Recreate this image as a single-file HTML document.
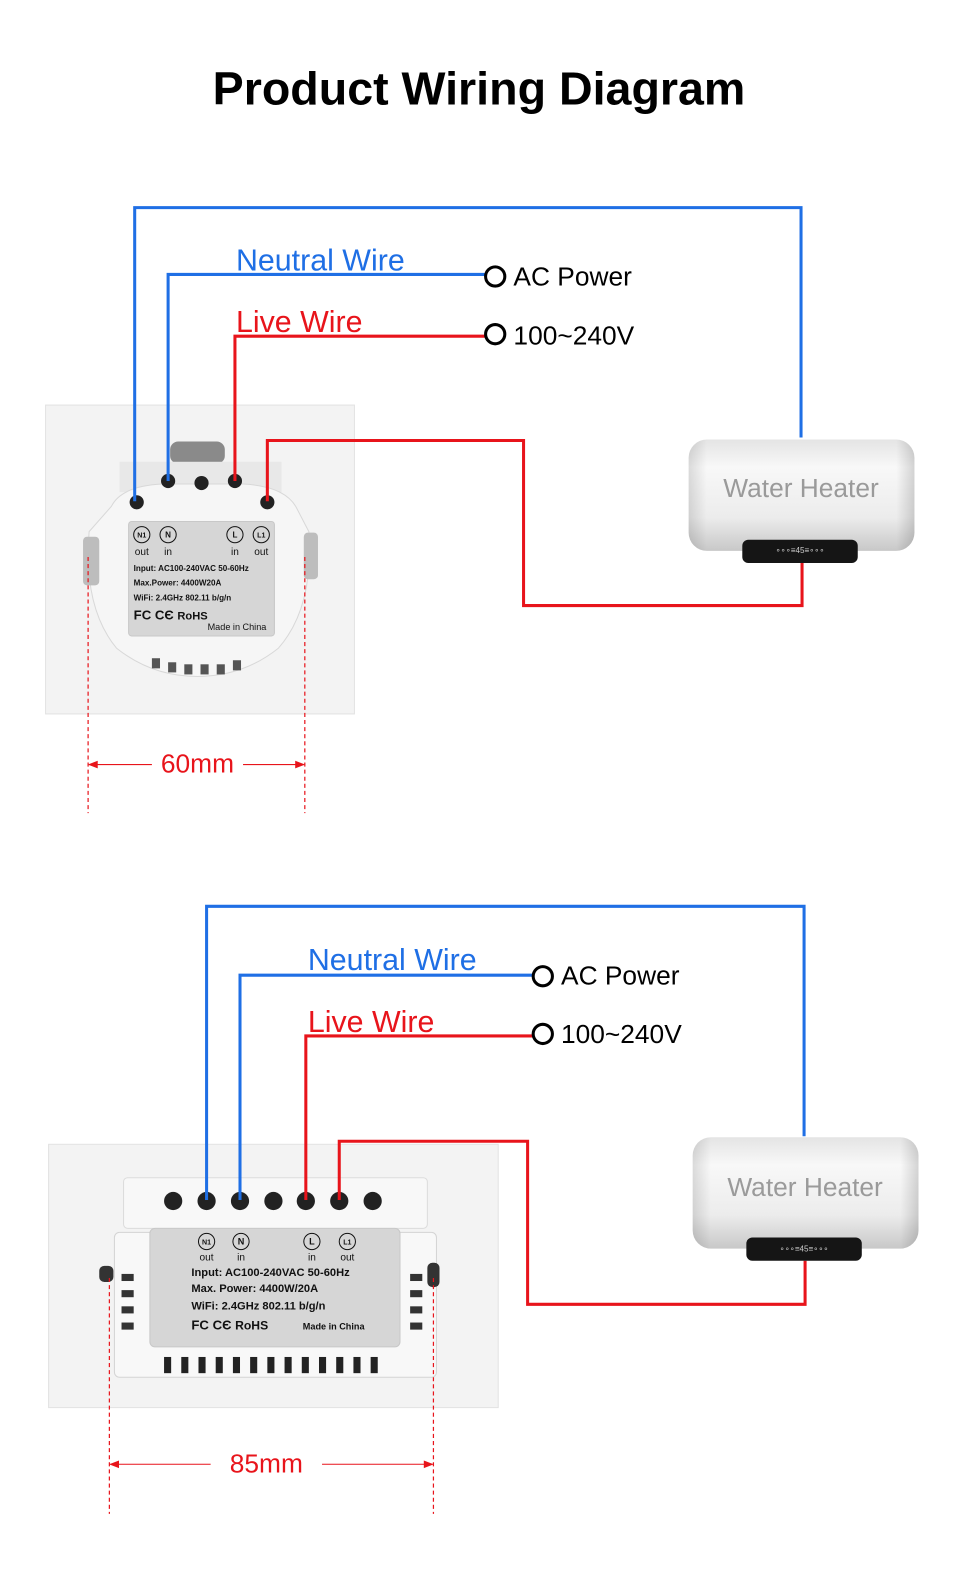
<!DOCTYPE html>
<html><head><meta charset="utf-8"><style>
html,body{margin:0;padding:0;background:#fff;}
svg{display:block;font-family:"Liberation Sans",Arial,sans-serif;}
</style></head><body>
<svg width="958" height="1584" viewBox="0 0 946 1564.2" preserveAspectRatio="none" xmlns="http://www.w3.org/2000/svg">
<defs>
<linearGradient id="hg" x1="0" y1="0" x2="0" y2="1">
<stop offset="0" stop-color="#e4e4e4"/><stop offset="0.25" stop-color="#f8f8f8"/><stop offset="0.7" stop-color="#ececec"/><stop offset="1" stop-color="#c8c8c8"/>
</linearGradient>
<linearGradient id="hx" x1="0" y1="0" x2="1" y2="0">
<stop offset="0" stop-color="#000" stop-opacity="0.12"/><stop offset="0.08" stop-color="#000" stop-opacity="0"/><stop offset="0.92" stop-color="#000" stop-opacity="0"/><stop offset="1" stop-color="#000" stop-opacity="0.15"/>
</linearGradient>
</defs>
<text x="473" y="103" text-anchor="middle" font-size="46" font-weight="bold" fill="#000">Product Wiring Diagram</text>

<!-- ===== TOP ===== -->
<rect x="45" y="400" width="305" height="305" fill="#f3f3f3" stroke="#e2e2e2"/>
<rect x="168" y="436" width="54" height="22" rx="8" fill="#8a8a8a"/>
<rect x="118" y="456" width="160" height="30" fill="#e8e8e8"/>
<path d="M110,500 Q120,480 160,478 L240,478 Q280,480 292,500 L305,525 Q310,600 275,640 Q240,668 195,668 Q150,668 115,640 Q82,600 88,525 Z" fill="#f6f6f6" stroke="#d8d8d8"/>
<rect x="82" y="530" width="16" height="48" rx="4" fill="#bdbdbd"/>
<rect x="300" y="526" width="14" height="46" rx="4" fill="#bdbdbd"/>
<g fill="#555"><rect x="150" y="650" width="8" height="10"/><rect x="166" y="654" width="8" height="10"/><rect x="182" y="656" width="8" height="10"/><rect x="198" y="656" width="8" height="10"/><rect x="214" y="656" width="8" height="10"/><rect x="230" y="652" width="8" height="10"/></g>
<g fill="#222"><circle cx="135" cy="496" r="7"/><circle cx="166" cy="475" r="7"/><circle cx="199" cy="477" r="7"/><circle cx="232" cy="475" r="7"/><circle cx="264" cy="496" r="7"/></g>
<rect x="127" y="515" width="144" height="113" rx="3" fill="#d6d6d6" stroke="#c8c8c8"/>
<g font-size="8" fill="#111" text-anchor="middle" font-weight="bold">
<circle cx="140" cy="528" r="8" fill="none" stroke="#111"/><text x="140" y="531" font-size="7">N1</text>
<circle cx="166" cy="528" r="8" fill="none" stroke="#111"/><text x="166" y="531">N</text>
<circle cx="232" cy="528" r="8" fill="none" stroke="#111"/><text x="232" y="531">L</text>
<circle cx="258" cy="528" r="8" fill="none" stroke="#111"/><text x="258" y="531" font-size="7">L1</text>
<text x="140" y="548" font-size="10" font-weight="normal">out</text><text x="166" y="548" font-size="10" font-weight="normal">in</text><text x="232" y="548" font-size="10" font-weight="normal">in</text><text x="258" y="548" font-size="10" font-weight="normal">out</text>
</g>
<g font-size="8" fill="#111" font-weight="bold">
<text x="132" y="564">Input: AC100-240VAC 50-60Hz</text>
<text x="132" y="578">Max.Power: 4400W20A</text>
<text x="132" y="593">WiFi: 2.4GHz 802.11 b/g/n</text>
<text x="132" y="612" font-size="13">FC  ϹЄ  <tspan font-size="11">RoHS</tspan></text>
<text x="205" y="622" font-weight="normal" font-size="9">Made in China</text>
</g>

<g fill="none" stroke-width="3">
<polyline points="133,495 133,205 791,205 791,432" stroke="#1f6fe5"/>
<polyline points="166,475 166,271 480,271" stroke="#1f6fe5"/>
<polyline points="232,475 232,332 480,332" stroke="#e8141b"/>
<polyline points="264,495 264,435 517,435 517,598 792,598 792,555" stroke="#e8141b"/>
</g>
<circle cx="489" cy="273" r="9.5" fill="#fff" stroke="#000" stroke-width="3"/>
<circle cx="489" cy="330" r="9.5" fill="#fff" stroke="#000" stroke-width="3"/>
<text x="233" y="267" font-size="30" fill="#1f6fe5">Neutral Wire</text>
<text x="233" y="328" font-size="30" fill="#e8141b">Live Wire</text>
<text x="507" y="282" font-size="26" fill="#000">AC Power</text>
<text x="507" y="340" font-size="26" fill="#000">100~240V</text>

<rect x="680" y="434" width="223" height="110" rx="18" fill="url(#hg)"/>
<rect x="680" y="434" width="223" height="110" rx="18" fill="url(#hx)"/>
<rect x="733" y="533" width="114" height="23" rx="6" fill="#151515"/>
<text x="790" y="546" font-size="8" fill="#ccc" text-anchor="middle">∘∘∘≡45≡∘∘∘</text>
<text x="791" y="491" font-size="26" fill="#9a9a9a" text-anchor="middle">Water Heater</text>

<g stroke="#e8141b" stroke-width="1.2" stroke-dasharray="4,3" fill="none">
<line x1="87" y1="550" x2="87" y2="803"/><line x1="301" y1="550" x2="301" y2="803"/>
</g>
<g stroke="#e8141b" stroke-width="1" fill="#e8141b">
<line x1="88" y1="755" x2="150" y2="755"/><line x1="240" y1="755" x2="300" y2="755"/>
<path d="M88,755 l8,-3 v6z M300,755 l-8,-3 v6z"/>
</g>
<text x="195" y="763" font-size="26" fill="#e8141b" text-anchor="middle">60mm</text>

<!-- ===== BOTTOM ===== -->
<rect x="48" y="1130" width="444" height="260" fill="#f3f3f3" stroke="#e2e2e2"/>
<rect x="122" y="1163" width="300" height="50" rx="4" fill="#f8f8f8" stroke="#dcdcdc"/>
<rect x="113" y="1217" width="318" height="143" rx="5" fill="#f8f8f8" stroke="#d4d4d4"/>
<g fill="#222"><circle cx="171" cy="1186" r="9"/><circle cx="204" cy="1186" r="9"/><circle cx="237" cy="1186" r="9"/><circle cx="270" cy="1186" r="9"/><circle cx="302" cy="1186" r="9"/><circle cx="335" cy="1186" r="9"/><circle cx="368" cy="1186" r="9"/></g>
<rect x="148" y="1213" width="247" height="117" rx="5" fill="#d6d6d6" stroke="#c8c8c8"/>
<g fill="#333">
<rect x="98" y="1250" width="14" height="16" rx="5"/><rect x="422" y="1247" width="12" height="24" rx="5"/>
<rect x="120" y="1258" width="12" height="7"/><rect x="120" y="1274" width="12" height="7"/><rect x="120" y="1290" width="12" height="7"/><rect x="120" y="1306" width="12" height="7"/>
<rect x="405" y="1258" width="12" height="7"/><rect x="405" y="1274" width="12" height="7"/><rect x="405" y="1290" width="12" height="7"/><rect x="405" y="1306" width="12" height="7"/>
</g>
<g fill="#222">
<rect x="162" y="1340" width="7" height="16"/><rect x="179" y="1340" width="7" height="16"/><rect x="196" y="1340" width="7" height="16"/><rect x="213" y="1340" width="7" height="16"/><rect x="230" y="1340" width="7" height="16"/><rect x="247" y="1340" width="7" height="16"/><rect x="264" y="1340" width="7" height="16"/><rect x="281" y="1340" width="7" height="16"/><rect x="298" y="1340" width="7" height="16"/><rect x="315" y="1340" width="7" height="16"/><rect x="332" y="1340" width="7" height="16"/><rect x="349" y="1340" width="7" height="16"/><rect x="366" y="1340" width="7" height="16"/>
</g>
<g font-size="9" fill="#111" text-anchor="middle" font-weight="bold">
<circle cx="204" cy="1226" r="8" fill="none" stroke="#111"/><text x="204" y="1229" font-size="7">N1</text>
<circle cx="238" cy="1226" r="8" fill="none" stroke="#111"/><text x="238" y="1229">N</text>
<circle cx="308" cy="1226" r="8" fill="none" stroke="#111"/><text x="308" y="1229">L</text>
<circle cx="343" cy="1226" r="8" fill="none" stroke="#111"/><text x="343" y="1229" font-size="7">L1</text>
<text x="204" y="1245" font-size="10" font-weight="normal">out</text><text x="238" y="1245" font-size="10" font-weight="normal">in</text><text x="308" y="1245" font-size="10" font-weight="normal">in</text><text x="343" y="1245" font-size="10" font-weight="normal">out</text>
</g>
<g font-size="11" fill="#111" font-weight="bold">
<text x="189" y="1260">Input: AC100-240VAC 50-60Hz</text>
<text x="189" y="1276">Max. Power: 4400W/20A</text>
<text x="189" y="1293">WiFi: 2.4GHz 802.11 b/g/n</text>
<text x="189" y="1313" font-size="13">FC  ϹЄ  <tspan font-size="12">RoHS</tspan></text>
<text x="299" y="1313" font-size="9">Made in China</text>
</g>

<g fill="none" stroke-width="3">
<polyline points="204,1185 204,895 794,895 794,1122" stroke="#1f6fe5"/>
<polyline points="237,1185 237,963 527,963" stroke="#1f6fe5"/>
<polyline points="302,1185 302,1023 527,1023" stroke="#e8141b"/>
<polyline points="335,1185 335,1127 521,1127 521,1288 795,1288 795,1245" stroke="#e8141b"/>
</g>
<circle cx="536" cy="964" r="9.5" fill="#fff" stroke="#000" stroke-width="3"/>
<circle cx="536" cy="1021" r="9.5" fill="#fff" stroke="#000" stroke-width="3"/>
<text x="304" y="958" font-size="30" fill="#1f6fe5">Neutral Wire</text>
<text x="304" y="1019" font-size="30" fill="#e8141b">Live Wire</text>
<text x="554" y="972" font-size="26" fill="#000">AC Power</text>
<text x="554" y="1030" font-size="26" fill="#000">100~240V</text>

<rect x="684" y="1123" width="223" height="110" rx="18" fill="url(#hg)"/>
<rect x="684" y="1123" width="223" height="110" rx="18" fill="url(#hx)"/>
<rect x="737" y="1222" width="114" height="23" rx="6" fill="#151515"/>
<text x="794" y="1236" font-size="8" fill="#ccc" text-anchor="middle">∘∘∘≡45≡∘∘∘</text>
<text x="795" y="1181" font-size="26" fill="#9a9a9a" text-anchor="middle">Water Heater</text>

<g stroke="#e8141b" stroke-width="1.2" stroke-dasharray="4,3" fill="none">
<line x1="108" y1="1262" x2="108" y2="1495"/><line x1="428" y1="1262" x2="428" y2="1495"/>
</g>
<g stroke="#e8141b" stroke-width="1" fill="#e8141b">
<line x1="109" y1="1446" x2="208" y2="1446"/><line x1="318" y1="1446" x2="427" y2="1446"/>
<path d="M109,1446 l8,-3 v6z M427,1446 l-8,-3 v6z"/>
</g>
<text x="263" y="1454" font-size="26" fill="#e8141b" text-anchor="middle">85mm</text>
</svg>
</body></html>
